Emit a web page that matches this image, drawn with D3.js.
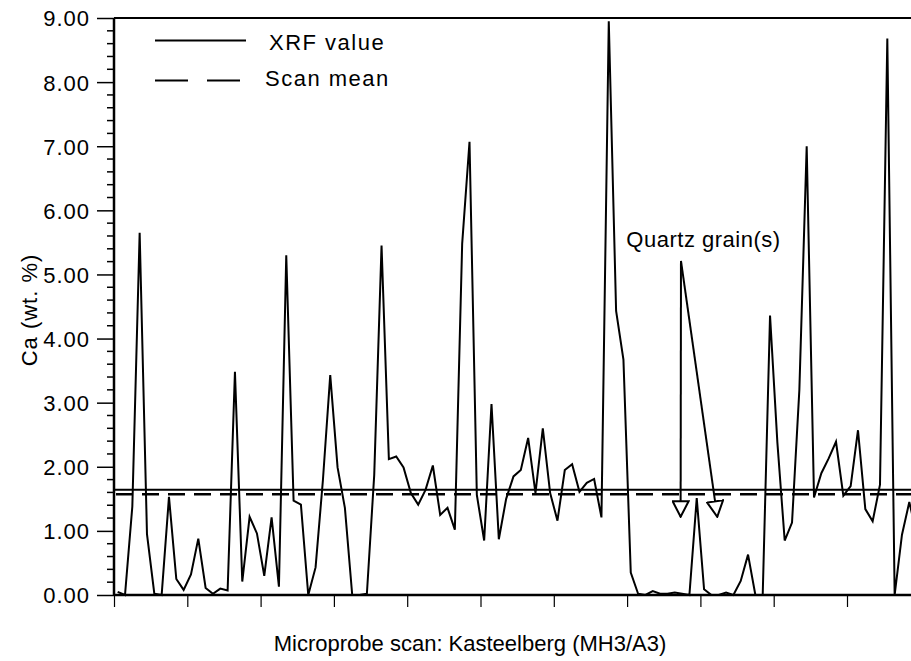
<!DOCTYPE html>
<html>
<head>
<meta charset="utf-8">
<script src="https://cdn.jsdelivr.net/npm/d3@7"></script>
<style>
  body { margin: 0; background: #fff; }
  svg { display: block; }
  text { font-family: "Liberation Sans", Arial, sans-serif; fill: #000; }
</style>
</head>
<body>
<script>
// Ca (wt. %) along the microprobe scan, one value per sample
var caValues = [
  0.05, 0.00, 1.38, 5.65, 0.95, 0.02, 0.00, 1.53, 0.25, 0.08,
  0.32, 0.88, 0.11, 0.02, 0.10, 0.07, 3.48, 0.21, 1.22, 0.96,
  0.30, 1.21, 0.13, 5.30, 1.47, 1.41, 0.00, 0.43, 1.79, 3.43,
  1.99, 1.36, 0.00, 0.00, 0.02, 1.87, 5.45, 2.12, 2.16, 1.99,
  1.59, 1.41, 1.64, 2.02, 1.25, 1.36, 1.02, 5.48, 7.07, 1.56,
  0.85, 2.98, 0.87, 1.50, 1.85, 1.95, 2.45, 1.59, 2.60, 1.59,
  1.16, 1.95, 2.04, 1.61, 1.75, 1.81, 1.21, 8.95, 4.43, 3.67,
  0.35, 0.02, 0.00, 0.06, 0.02, 0.02, 0.04, 0.02, 0.00, 1.51,
  0.09, 0.00, 0.00, 0.04, 0.00, 0.22, 0.63, 0.00, 0.00, 4.36,
  2.38, 0.85, 1.13, 3.20, 7.00, 1.52, 1.90, 2.13, 2.39, 1.55,
  1.70, 2.57, 1.34, 1.15, 1.72, 8.68, 0.00, 0.94, 1.45, 0.95
];

var xrfMean = 1.64;
var scanMean = 1.57;

var yTicks = [0, 1, 2, 3, 4, 5, 6, 7, 8, 9];
var xTicks = [0, 10, 20, 30, 40, 50, 60, 70, 80, 90, 100, 110];

var legendItems = [
  { label: "XRF value", dash: null },
  { label: "Scan mean", dash: "33,19" }
];

var quartzLabel = "Quartz grain(s)";
var quartzFrom = { x: 77.35, y: 5.21 };
var quartzTips = [ { x: 77.3, y: 1.22 }, { x: 82.3, y: 1.22 } ];
var quartzText = { x: 69.9, y: 5.43 };

function drawChart() {
    var width = 911, height = 661;
    var plotLeft = 114, plotTop = 18, plotBottom = 595;

    var svg = d3.select("body").append("svg")
        .attr("width", width)
        .attr("height", height);

    var x = d3.scaleLinear().domain([0, 110]).range([plotLeft, plotLeft + 806.3]);
    var y = d3.scaleLinear().domain([0, 9]).range([plotBottom, plotTop]);

    // marker for the open arrow heads
    svg.append("defs").append("marker")
        .attr("id", "openhead")
        .attr("markerUnits", "userSpaceOnUse")
        .attr("viewBox", "0 0 18 18")
        .attr("markerWidth", 18)
        .attr("markerHeight", 18)
        .attr("refX", 16.5)
        .attr("refY", 9)
        .attr("orient", "auto")
        .append("path")
            .attr("d", "M1,1 L16.5,9 L1,17 Z")
            .attr("fill", "#fff")
            .attr("stroke", "#000")
            .attr("stroke-width", 2);

    // y axis with major + minor ticks
    var yAxis = d3.axisLeft(y).tickValues(yTicks).tickSize(17).tickPadding(7)
        .tickFormat(d3.format(".2f"));
    var gy = svg.append("g").attr("transform", "translate(" + plotLeft + ",0)").call(yAxis);
    gy.select(".domain").remove();
    gy.selectAll(".tick line").attr("stroke", "#000").attr("stroke-width", 1.5);
    gy.selectAll(".tick text")
        .attr("fill", "#000")
        .style("font-size", "22px")
        .style("letter-spacing", "1px")
        .attr("dy", "0.36em");

    var minor = d3.range(0, 9.01, 0.2).filter(function (v) { return Math.abs(v - Math.round(v)) > 0.01; });
    svg.append("g").selectAll("line").data(minor).join("line")
        .attr("x1", plotLeft - 7).attr("x2", plotLeft)
        .attr("y1", function (d) { return y(d); })
        .attr("y2", function (d) { return y(d); })
        .attr("stroke", "#000").attr("stroke-width", 1.5);

    // x axis ticks, no labels
    var xAxis = d3.axisBottom(x).tickValues(xTicks).tickSize(12).tickFormat("");
    var gx = svg.append("g").attr("transform", "translate(0," + plotBottom + ")").call(xAxis);
    gx.select(".domain").remove();
    gx.selectAll(".tick line").attr("stroke", "#000").attr("stroke-width", 1.2);

    // frame lines
    svg.append("line").attr("x1", plotLeft).attr("x2", width).attr("y1", plotTop).attr("y2", plotTop)
        .attr("stroke", "#000").attr("stroke-width", 2);
    svg.append("line").attr("x1", plotLeft).attr("x2", width).attr("y1", plotBottom).attr("y2", plotBottom)
        .attr("stroke", "#000").attr("stroke-width", 2.5);
    svg.append("line").attr("x1", plotLeft).attr("x2", plotLeft).attr("y1", plotTop).attr("y2", plotBottom)
        .attr("stroke", "#000").attr("stroke-width", 2.5);

    // mean lines
    svg.append("line")
        .attr("x1", plotLeft).attr("x2", width)
        .attr("y1", y(xrfMean)).attr("y2", y(xrfMean))
        .attr("stroke", "#000").attr("stroke-width", 2);
    svg.append("line")
        .attr("x1", plotLeft + 2).attr("x2", width)
        .attr("y1", y(scanMean)).attr("y2", y(scanMean))
        .attr("stroke", "#000").attr("stroke-width", 2.5)
        .attr("stroke-dasharray", "17,9");

    // the scan
    var line = d3.line()
        .x(function (d, i) { return x(i + 0.5); })
        .y(function (d) { return y(d); });

    svg.append("path")
        .datum(caValues)
        .attr("d", line)
        .attr("fill", "none")
        .attr("stroke", "#000")
        .attr("stroke-width", 2)
        .attr("stroke-linejoin", "miter");

    // quartz annotation
    svg.append("text")
        .attr("x", x(quartzText.x))
        .attr("y", y(quartzText.y))
        .style("font-size", "22px")
        .style("letter-spacing", "0.5px")
        .text(quartzLabel);

    svg.append("g").selectAll("line").data(quartzTips).join("line")
        .attr("x1", x(quartzFrom.x)).attr("y1", y(quartzFrom.y))
        .attr("x2", function (d) { return x(d.x); })
        .attr("y2", function (d) { return y(d.y); })
        .attr("stroke", "#000").attr("stroke-width", 2)
        .attr("marker-end", "url(#openhead)");

    // legend
    var lg = svg.append("g").selectAll("g").data(legendItems).join("g")
        .attr("transform", function (d, i) { return "translate(155," + (40.5 + i * 40) + ")"; });
    lg.append("line")
        .attr("x1", 0).attr("x2", 91)
        .attr("stroke", "#000").attr("stroke-width", 2)
        .attr("stroke-dasharray", function (d) { return d.dash; });
    lg.append("text")
        .attr("x", function (d, i) { return i === 0 ? 114 : 110; })
        .attr("y", function (d, i) { return i === 0 ? 9 : 5; })
        .style("font-size", "22px")
        .style("letter-spacing", "1.5px")
        .text(function (d) { return d.label; });

    // axis titles
    svg.append("text")
        .attr("transform", "translate(37,310) rotate(-90)")
        .attr("text-anchor", "middle")
        .style("font-size", "22px")
        .style("letter-spacing", "1px")
        .text("Ca (wt. %)");

    svg.append("text")
        .attr("x", 470)
        .attr("y", 651)
        .attr("text-anchor", "middle")
        .style("font-size", "22px")
        .text("Microprobe scan: Kasteelberg (MH3/A3)");
}

drawChart();
</script>
</body>
</html>
